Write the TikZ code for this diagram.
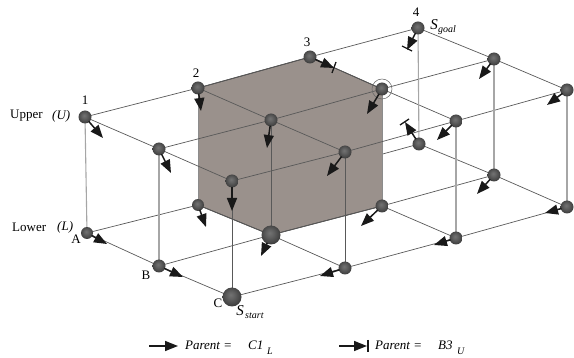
\documentclass[tikz,border=0pt]{standalone}
\usepackage{fontspec}
\setmainfont{Liberation Serif}
\usetikzlibrary{arrows.meta}
\pgfdeclarelayer{box}\pgfdeclarelayer{edges}
\pgfsetlayers{box,edges,main}
\definecolor{obst}{HTML}{9A918C}
\pgfdeclareradialshading{ballshade}{\pgfpoint{-4bp}{6bp}}{
 color(0bp)=(black!55);color(10bp)=(black!62);color(22bp)=(black!72);color(32bp)=(black!82);color(50bp)=(black!85)}
\tikzset{
 x=1pt,y=-1pt,
 ball/.style={circle,inner sep=0pt,minimum size=13pt,shading=ballshade},
 bigball/.style={ball,minimum size=19pt},
 hz/.style={draw=black!65,line width=0.7pt},
 vg/.style={draw=black!35,line width=1.1pt},
 vd/.style={draw=black!65,line width=0.8pt},
 par/.style={draw=black!90,line width=1.5pt,-{Triangle[length=13pt,width=10pt]},shorten <=-1pt},
 bar/.style={draw=black!90,line width=1.3pt},
 lbl/.style={inner sep=0pt,font=\fontsize{13}{13}\selectfont},
 ilbl/.style={lbl,font=\fontsize{13}{13}\selectfont\itshape},
 sub/.style={lbl,font=\fontsize{10}{10}\selectfont\itshape},
}
\newcommand{\parr}[3]{\coordinate (t#1) at (#2,#3);\draw[par] (#1) -- (t#1);}
\begin{document}
\begin{tikzpicture}
\useasboundingbox (0,0) rectangle (574,358);
% upper balls
\node[ball] (a1u) at (85,117) {};
\node[ball] (a2u) at (198,88) {};
\node[ball] (a3u) at (310,57) {};
\node[ball] (a4u) at (418,28) {};
\node[ball] (b1u) at (159,149) {};
\node[ball] (b2u) at (271,120) {};
\node[ball] (b3u) at (382,89) {};
\node[ball] (b4u) at (494,59) {};
\node[ball] (c1u) at (232,181) {};
\node[ball] (c2u) at (345,152) {};
\node[ball] (c3u) at (456,121) {};
\node[ball] (c4u) at (567,90) {};
% lower balls
\node[ball,minimum size=12pt] (a1l) at (87,233) {};
\node[ball,minimum size=12pt] (a2l) at (198,205) {};
\coordinate (a3l) at (310,174);
\node[ball] (a4l) at (419,144) {};
\node[ball] (b1l) at (159,266) {};
\node[bigball] (b2l) at (271,235) {};
\node[ball] (b3l) at (382,206) {};
\node[ball] (b4l) at (494,175) {};
\node[bigball] (c1l) at (232,297) {};
\node[ball] (c2l) at (345,268) {};
\node[ball] (c3l) at (456,238) {};
\node[ball] (c4l) at (567,207) {};
\node[circle,draw=black!60,line width=0.5pt,minimum size=20pt,inner sep=0pt] (goalmark) at (b3u) {};
\begin{pgfonlayer}{edges}
 \foreach \p/\q in {a1u/a2u,a2u/a3u,a3u/a4u,b1u/b2u,b2u/b3u,b3u/b4u,c1u/c2u,c2u/c3u,c3u/c4u,
   a1u/b1u,b1u/c1u,a2u/b2u,b2u/c2u,a3u/b3u,b3u/c3u,a4u/b4u,b4u/c4u,
   a1l/a2l,b1l/b2l,b2l/b3l,b3l/b4l,c1l/c2l,c2l/c3l,c3l/c4l,
   a1l/b1l,b1l/c1l,a2l/b2l,b2l/c2l,b3l/c3l,a4l/b4l,b4l/c4l}
   {\draw[hz] (\p.center) -- (\q.center);}
 \foreach \p/\q in {a1u/a1l,b1u/b1l,a4u/a4l,b4u/b4l,c3u/c3l,c4u/c4l}
   {\draw[vg] (\p.center) -- (\q.center);}
 \foreach \p/\q in {c1u/c1l,b2u/b2l,c2u/c2l}
   {\draw[vd] (\p.center) -- (\q.center);}
\end{pgfonlayer}
\begin{pgfonlayer}{box}
 \draw[hz] (a2l.center) -- (a3l) -- (a4l.center);
 \draw[hz] (a3l) -- (b3l.center);
 \fill[obst] (a2u.center) -- (a3u.center) -- (b3u.center) -- (b3l.center) -- (b2l.center) -- (a2l.center) -- cycle;
 \draw[black!75,line width=0.8pt] (a2u.center) -- (a3u.center) -- (b3u.center);
 \draw[black!75,line width=0.8pt] (a2l.center) -- (b2l.center) -- (b3l.center);
 \draw[black!45,line width=0.6pt] (a2u.center) -- (a2l.center);
 \draw[black!45,line width=0.6pt] (b3u.center) -- (b3l.center);
\end{pgfonlayer}
% parent arrows
\parr{a1u}{103}{138}
\parr{a2u}{201}{111}
\parr{b1u}{171}{173}
\parr{b2u}{267}{148}
\parr{c1u}{232}{211}
\parr{b3u}{367}{114}
\parr{b4u}{479}{79}
\parr{c4u}{547}{105}
\parr{c3u}{437}{140}
\parr{c2u}{327}{176}
\parr{a1l}{107}{244}
\parr{a2l}{206}{227}
\parr{b1l}{183}{277}
\parr{b2l}{261}{256}
\parr{b3l}{361}{226}
\parr{b4l}{477}{194}
\parr{c4l}{545}{213}
\parr{c3l}{434}{245}
\parr{c2l}{320}{276}
% bar arrows
\parr{a3u}{334}{68}
\coordinate (ba) at (336,62);\coordinate (bb) at (332,73);\draw[bar] (ba) -- (bb);
\parr{a4u}{407}{50}
\coordinate (bc) at (402,46);\coordinate (bd) at (412,51);\draw[bar] (bc) -- (bd);
\parr{a4l}{405}{122}
\coordinate (be) at (400,125);\coordinate (bf) at (409,119);\draw[bar] (be) -- (bf);
% labels
\node[lbl] (n1) at (85,100) {1};
\node[lbl] (n2) at (196,73) {2};
\node[lbl] (n3) at (307,42) {3};
\node[lbl] (n4) at (416,12) {4};
\node[lbl,anchor=west] (up) at (10,116) {Upper};
\node[ilbl,anchor=west] (upi) at (52,116) {(U)};
\node[lbl,anchor=west] (lo) at (12,227) {Lower};
\node[ilbl,anchor=west] (loi) at (57,227) {(L)};
\node[lbl] (la) at (76,239) {A};
\node[lbl] (lb) at (146,275) {B};
\node[lbl] (lc) at (218,303) {C};
\node[ilbl,font=\fontsize{15}{15}\selectfont\itshape] (ss) at (240,311) {S};
\node[sub,anchor=west] (sst) at (245,316) {start};
\node[ilbl,font=\fontsize{15}{15}\selectfont\itshape] (sg) at (434,25) {S};
\node[sub,anchor=west] (sgo) at (438,30) {goal};
% legend
\coordinate (l1a) at (150,346);\coordinate (l1b) at (178,346);
\draw[par] (l1a) -- (l1b);
\node[ilbl,anchor=west] (p1) at (185,345) {Parent =};
\node[ilbl,anchor=west] (c1) at (248,345) {C1};
\node[sub,anchor=west] (c1s) at (267,351) {L};
\coordinate (l2a) at (340,346);\coordinate (l2b) at (367,346);
\draw[par] (l2a) -- (l2b);
\coordinate (l2c) at (368,340);\coordinate (l2d) at (368,352);\draw[bar] (l2c) -- (l2d);
\node[ilbl,anchor=west] (p2) at (375,345) {Parent =};
\node[ilbl,anchor=west] (b3) at (438,345) {B3};
\node[sub,anchor=west] (b3s) at (457,351) {U};
\end{tikzpicture}
\end{document}
